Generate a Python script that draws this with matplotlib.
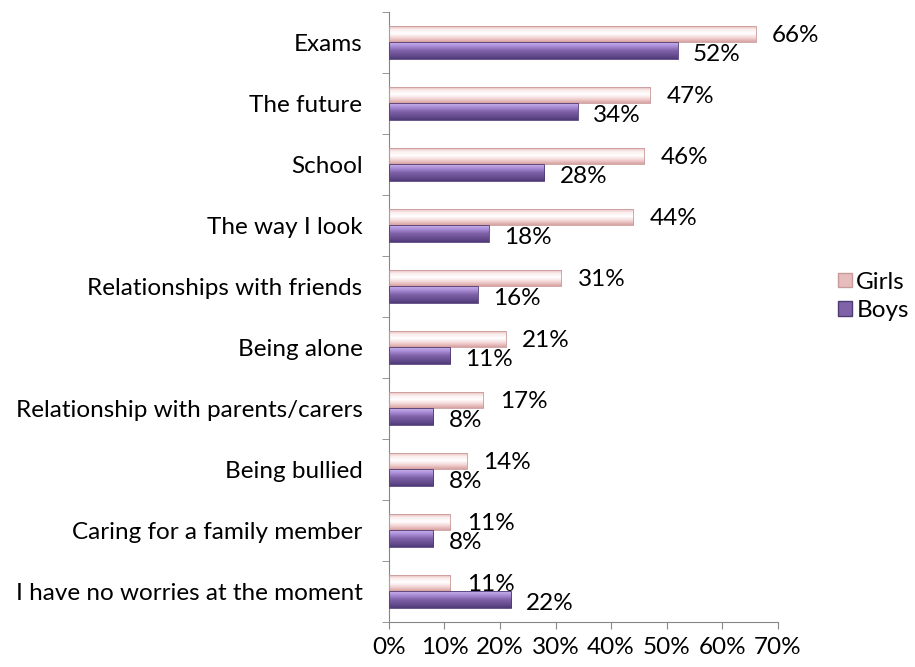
import numpy as np
import matplotlib.pyplot as plt
from matplotlib.colors import LinearSegmentedColormap
from matplotlib.patches import Patch

plt.rcParams['font.family'] = ['Lato', 'DejaVu Sans']

# data, top to bottom
categories = ["Exams", "The future", "School", "The way I look",
              "Relationships with friends", "Being alone",
              "Relationship with parents/carers", "Being bullied",
              "Caring for a family member", "I have no worries at the moment"]
girls = [66, 47, 46, 44, 31, 21, 17, 14, 11, 11]
boys = [52, 34, 28, 18, 16, 11, 8, 8, 8, 22]
xticks = [0, 10, 20, 30, 40, 50, 60, 70]

FS = 17.5

girls_cmap = LinearSegmentedColormap.from_list(
    "g", ["#e2aeae", "#fbeeee", "#ffffff", "#f3d6d6", "#d8a2a2"])
boys_cmap = LinearSegmentedColormap.from_list(
    "b", ["#c9b3ec", "#a98bd6", "#7f62a8", "#6a5093", "#503a78"])

fig = plt.figure(figsize=(9.15, 6.67), dpi=100)
ax = fig.add_axes([0.425, 0.0675, 0.425, 0.915])

y = np.arange(len(categories))
h = 0.27

def gradient_bars(bars, cmap, edge):
    grad = np.linspace(0, 1, 64).reshape(-1, 1)
    for b in bars:
        b.set_facecolor("none")
        b.set_edgecolor(edge)
        b.set_linewidth(0.6)
        x0, yb = b.get_x(), b.get_y()
        w, hh = b.get_width(), b.get_height()
        im = ax.imshow(grad, cmap=cmap, aspect="auto", origin="upper",
                       extent=(x0, x0 + w, yb + hh, yb), zorder=2)
        im.set_clip_path(b)

gb = ax.barh(y - h / 2, girls, height=h, zorder=3)
bb = ax.barh(y + h / 2, boys, height=h, zorder=3)
gradient_bars(gb, girls_cmap, "#c99a9a")
gradient_bars(bb, boys_cmap, "#4f3a75")

for i in range(len(categories)):
    ax.annotate(f"{girls[i]}%", (girls[i], y[i] - h / 2), xytext=(12, -1),
                textcoords="offset points", va="center", ha="left",
                fontsize=FS)
    ax.annotate(f"{boys[i]}%", (boys[i], y[i] + h / 2), xytext=(11, -3),
                textcoords="offset points", va="center", ha="left",
                fontsize=FS)

ax.set_xlim(0, 70)
ax.set_ylim(len(categories) - 0.5, -0.5)
ax.set_xticks(xticks)
ax.set_xticklabels([f"{t}%" for t in xticks], fontsize=FS)
ax.set_yticks(y)
ax.set_yticklabels(categories, fontsize=FS)
ax.set_yticks(np.arange(len(categories) + 1) - 0.5, minor=True)
ax.tick_params(axis="y", which="major", length=0, pad=19)
ax.tick_params(axis="y", which="minor", length=5, color="#868686")
ax.tick_params(axis="x", length=5, color="#868686", pad=6)

for s in ["top", "right"]:
    ax.spines[s].set_visible(False)
ax.spines["left"].set_color("#868686")
ax.spines["bottom"].set_color("#868686")

handles = [Patch(facecolor="#e6bcbc", edgecolor="#c99a9a", label="Girls"),
           Patch(facecolor="#7f62a8", edgecolor="#4f3a75", label="Boys")]
fig.legend(handles=handles, loc="center left", bbox_to_anchor=(0.916, 0.556),
           frameon=False, fontsize=FS, handlelength=0.55, handleheight=0.55,
           handletextpad=0.2, labelspacing=0.3, borderpad=0, borderaxespad=0)

fig.savefig("out.png", dpi=100)
